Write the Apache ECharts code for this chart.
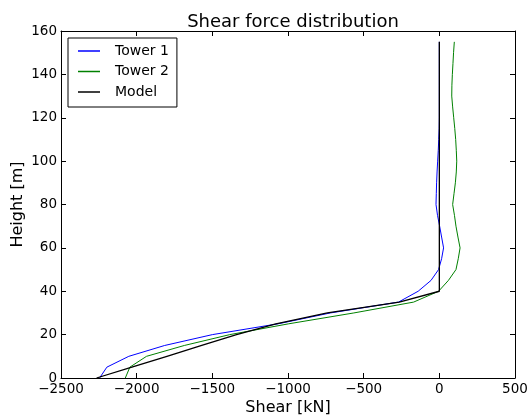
<!DOCTYPE html>
<html>
<head>
<meta charset="utf-8">
<script src="https://cdn.jsdelivr.net/npm/echarts@6/dist/echarts.min.js"></script>
<style>
html,body{margin:0;padding:0;background:#fff;}
#chart{width:529px;height:416px;}
</style>
</head>
<body>
<div id="chart"></div>
<script>
var heights = [0,5,10,15,20,25,30,35,40,45,50,55,60,65,70,75,80,85,90,95,100,105,110,115,120,125,130,135,140,145,150,155];
var tower1 = [-2245,-2197,-2052,-1815,-1500,-1065,-720,-270,-140,-55,-5,15,28,15,2,-12,-22,-20,-18,-15,-11,-7,-4,-1,0,0,0,0,0,0,0,0];
var tower2 = [-2075,-2045,-1935,-1685,-1385,-995,-565,-170,-5,60,110,125,137,123,110,100,88,97,106,112,115,112,108,102,95,88,82,83,86,90,94,99];
var model = [-2265,-2032,-1800,-1570,-1340,-1080,-740,-265,0,0,0,0,0,0,0,0,0,0,0,0,0,0,0,0,0,0,0,0,0,0,0,0];
var seriesNames = ['Tower 1','Tower 2','Model'];
var seriesColors = ['#0000ff','#008000','#000000'];
var xTicks = {min:-2500,max:500,interval:500};
var yTicks = {min:0,max:160,interval:20};

function pairs(vals){ return vals.map(function(v,i){ return [v, heights[i]]; }); }
var FONT = 'DejaVu Sans';
function minusFmt(v){ return String(v).replace('-', '\u2212'); }

var chart = echarts.init(document.getElementById('chart'), null, {renderer:'canvas'});
var axisLine = {show:true, onZero:false, lineStyle:{color:'#000', width:1}};
var tick = {show:true, inside:true, length:5, lineStyle:{color:'#000', width:1}};
var option = {
  backgroundColor:'#fff',
  animation:false,
  title:{text:'Shear force distribution', left:288, top:8, textAlign:'center',
    textStyle:{fontFamily:FONT, fontSize:18, fontWeight:'normal', color:'#000'}},
  legend:{
    orient:'vertical', left:68, top:38,
    data:seriesNames.map(function(n){ return {name:n, icon:'rect'}; }),
    itemWidth:22, itemHeight:1.5, itemGap:4.5,
    padding:[5,8,7,10],
    borderColor:'#000', borderWidth:1, borderRadius:0,
    backgroundColor:'#fff',
    textStyle:{fontFamily:FONT, fontSize:14, lineHeight:16, color:'#000', padding:[0,0,0,10]}
  },
  grid:{left:61, right:14, top:31, bottom:38, containLabel:false, outerBoundsMode:'none'},
  xAxis:[
    {type:'value', position:'bottom', min:xTicks.min, max:xTicks.max, interval:xTicks.interval,
     name:'Shear [kN]', nameLocation:'middle', nameGap:22, nameMoveOverlap:false,
     nameTextStyle:{fontFamily:FONT, fontSize:16, color:'#000'},
     axisLine:axisLine, axisTick:tick, splitLine:{show:false},
     axisLabel:{fontFamily:FONT, fontSize:13.5, color:'#000', margin:4, formatter:minusFmt}},
    {type:'value', position:'top', min:xTicks.min, max:xTicks.max, interval:xTicks.interval,
     axisLine:axisLine, axisTick:tick, splitLine:{show:false}, axisLabel:{show:false}}
  ],
  yAxis:[
    {type:'value', position:'left', min:yTicks.min, max:yTicks.max, interval:yTicks.interval,
     name:'Height [m]', nameLocation:'middle', nameGap:35, nameRotate:90, nameMoveOverlap:false,
     nameTextStyle:{fontFamily:FONT, fontSize:16, color:'#000'},
     axisLine:axisLine, axisTick:tick, splitLine:{show:false},
     axisLabel:{fontFamily:FONT, fontSize:13.5, color:'#000', margin:4}},
    {type:'value', position:'right', min:yTicks.min, max:yTicks.max, interval:yTicks.interval,
     axisLine:axisLine, axisTick:tick, splitLine:{show:false}, axisLabel:{show:false}}
  ],
  series:[
    {name:seriesNames[0], type:'line', data:pairs(tower1), symbol:'none', color:seriesColors[0],
     lineStyle:{color:seriesColors[0], width:1}, z:2},
    {name:seriesNames[1], type:'line', data:pairs(tower2), symbol:'none', color:seriesColors[1],
     lineStyle:{color:seriesColors[1], width:1}, z:2},
    {name:seriesNames[2], type:'line', data:pairs(model), symbol:'none', color:seriesColors[2],
     lineStyle:{color:seriesColors[2], width:1.3}, z:3}
  ]
};
chart.setOption(option);
</script>
</body>
</html>
